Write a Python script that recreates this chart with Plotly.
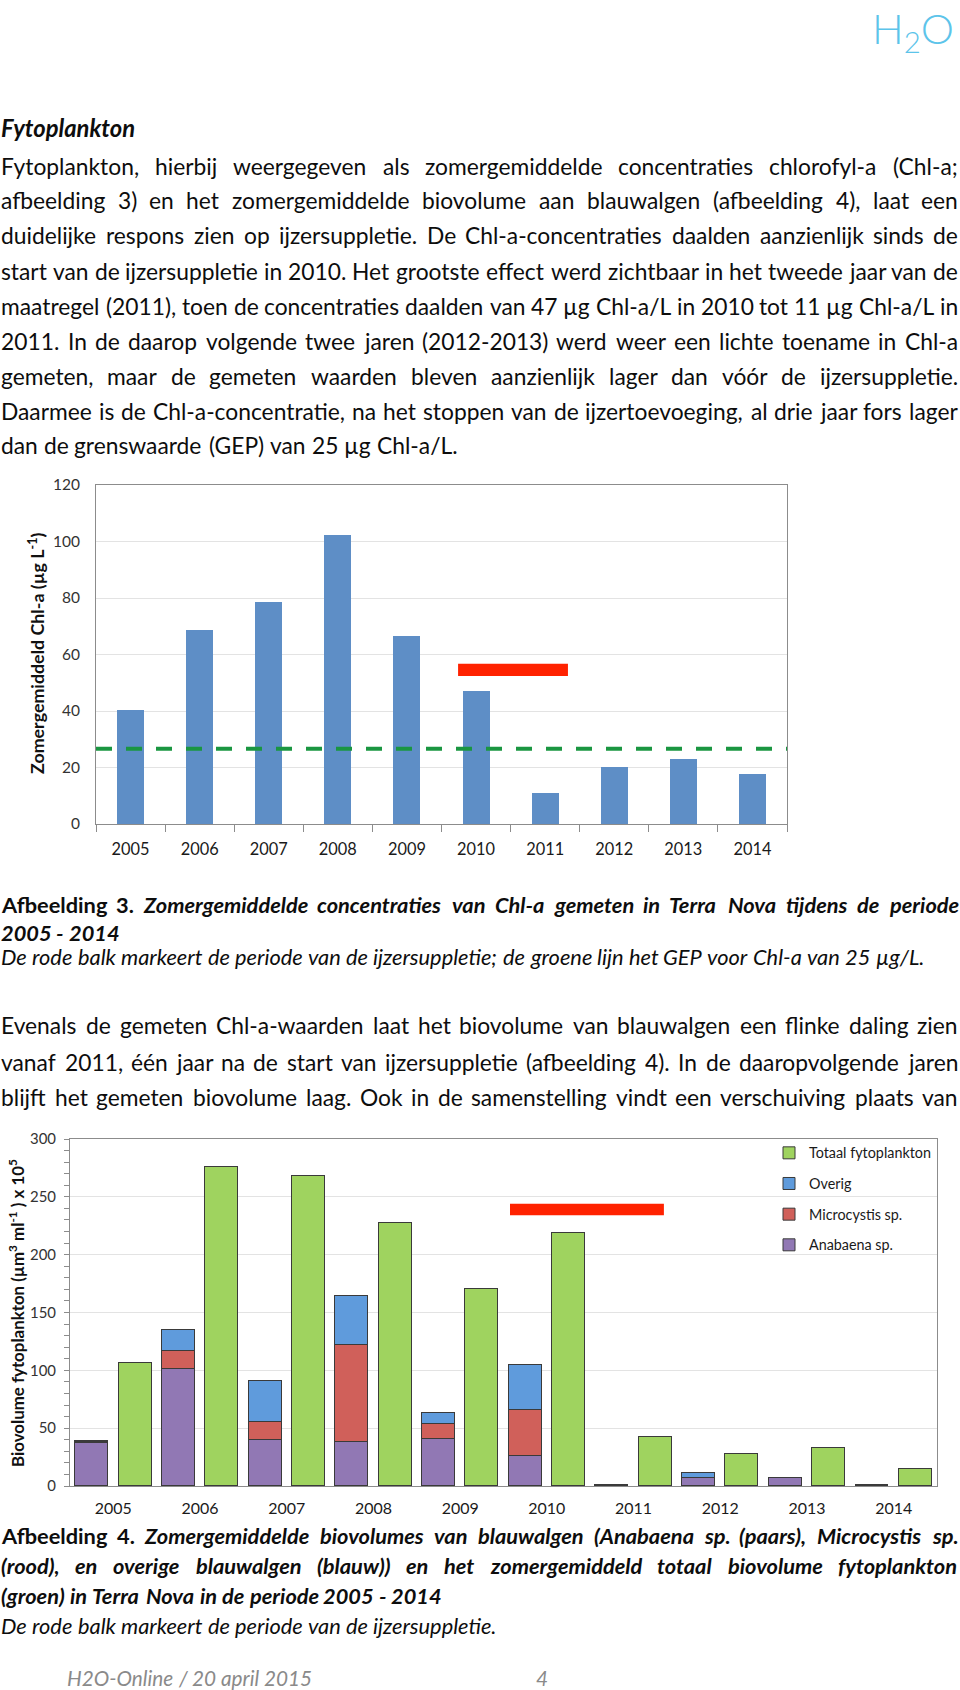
import os
import struct
import plotly.graph_objects as go

W, H = 960, 1690

# ---------------- data ----------------
YEARS = ['2005', '2006', '2007', '2008', '2009', '2010', '2011', '2012', '2013', '2014']
CHL_A = [40.5, 68.5, 78.7, 102.3, 66.4, 47.2, 10.8, 20.3, 23.0, 17.6]
GEP_LEVEL = 26.6
ANABAENA = [37.5, 101.0, 39.5, 38.0, 40.5, 26.0, 0.6, 6.5, 7.0, 0.5]
MICROCYSTIS = [0.3, 16.0, 15.5, 84.0, 13.0, 39.5, 0.0, 0.3, 0.0, 0.0]
OVERIG = [1.2, 18.0, 36.0, 42.0, 9.5, 39.0, 0.0, 4.5, 0.0, 0.0]
TOTAAL = [106.0, 276.0, 268.0, 227.0, 170.0, 219.0, 42.5, 28.0, 33.0, 14.5]
SERIES_NAMES = ['Anabaena sp.', 'Microcystis sp.', 'Overig', 'Totaal fytoplankton']
CHL_TICKS = [0, 20, 40, 60, 80, 100, 120]
BIO_TICKS = [0, 50, 100, 150, 200, 250, 300]

# ---------------- text ----------------
HEADER = 'Fytoplankton'
PARA1 = [
    'Fytoplankton, hierbij weergegeven als zomergemiddelde concentraties chlorofyl-a (Chl-a;',
    'afbeelding 3) en het zomergemiddelde biovolume aan blauwalgen (afbeelding 4), laat een',
    'duidelijke respons zien op ijzersuppletie. De Chl-a-concentraties daalden aanzienlijk sinds de',
    'start van de ijzersuppletie in 2010. Het grootste effect werd zichtbaar in het tweede jaar van de',
    'maatregel (2011), toen de concentraties daalden van 47 µg Chl-a/L in 2010 tot 11 µg Chl-a/L in',
    '2011. In de daarop volgende twee jaren (2012-2013) werd weer een lichte toename in Chl-a',
    'gemeten, maar de gemeten waarden bleven aanzienlijk lager dan vóór de ijzersuppletie.',
    'Daarmee is de Chl-a-concentratie, na het stoppen van de ijzertoevoeging, al drie jaar fors lager',
    'dan de grenswaarde (GEP) van 25 µg Chl-a/L.',
]
CAP3_LABEL = 'Afbeelding 3.'
CAP3_TITLE = 'Zomergemiddelde concentraties van Chl-a gemeten in Terra Nova tijdens de periode'
CAP3_TITLE2 = '2005 - 2014'
CAP3_NOTE = 'De rode balk markeert de periode van de ijzersuppletie; de groene lijn het GEP voor Chl-a van 25 µg/L.'
PARA2 = [
    'Evenals de gemeten Chl-a-waarden laat het biovolume van blauwalgen een flinke daling zien',
    'vanaf 2011, één jaar na de start van ijzersuppletie (afbeelding 4). In de daaropvolgende jaren',
    'blijft het gemeten biovolume laag. Ook in de samenstelling vindt een verschuiving plaats van',
]
CAP4_LABEL = 'Afbeelding 4.'
CAP4_LINES = [
    'Zomergemiddelde biovolumes van blauwalgen (Anabaena sp. (paars), Microcystis sp.',
    '(rood), en overige blauwalgen (blauw)) en het zomergemiddeld totaal biovolume fytoplankton',
    '(groen) in Terra Nova in de periode 2005 - 2014',
]
CAP4_NOTE = 'De rode balk markeert de periode van de ijzersuppletie.'
FOOTER = 'H2O-Online / 20 april 2015'
PAGE_NO = '4'

# ---------------- font metrics (for justified text) ----------------
FONT = 'Lato'
FONT_FILES = {'r': 'lato-regular', 'b': 'lato-bold', 'i': 'lato-italic', 'bi': 'lato-bolditalic'}


def find_fonts():
    found = {}
    roots = ['/usr/share/fonts', '/usr/local/share/fonts',
             os.path.expanduser('~/.fonts'), os.path.expanduser('~/.local/share/fonts')]
    for root in roots:
        if not os.path.isdir(root):
            continue
        for dp, dn, fn in os.walk(root):
            for f in fn:
                base, ext = os.path.splitext(f.lower())
                if ext in ('.ttf', '.otf'):
                    for k, v in FONT_FILES.items():
                        if base == v and k not in found:
                            found[k] = os.path.join(dp, f)
    return found


def load_metrics(path):
    data = open(path, 'rb').read()
    num = struct.unpack('>H', data[4:6])[0]
    tables = {}
    for i in range(num):
        tag, cs, off, ln = struct.unpack('>4sIII', data[12 + 16 * i:28 + 16 * i])
        tables[tag.decode('latin1')] = off
    upem = struct.unpack('>H', data[tables['head'] + 18:tables['head'] + 20])[0]
    nhm = struct.unpack('>H', data[tables['hhea'] + 34:tables['hhea'] + 36])[0]
    ho = tables['hmtx']
    advs = [struct.unpack('>H', data[ho + 4 * i:ho + 4 * i + 2])[0] for i in range(nhm)]
    co = tables['cmap']
    nsub = struct.unpack('>H', data[co + 2:co + 4])[0]
    best = None
    for i in range(nsub):
        pid, eid, so = struct.unpack('>HHI', data[co + 4 + 8 * i:co + 12 + 8 * i])
        fmt = struct.unpack('>H', data[co + so:co + so + 2])[0]
        if fmt == 4 and ((pid == 3 and eid == 1) or pid == 0):
            best = co + so
    p = best
    segx2 = struct.unpack('>H', data[p + 6:p + 8])[0]
    seg = segx2 // 2
    ends = struct.unpack('>%dH' % seg, data[p + 14:p + 14 + segx2])
    starts = struct.unpack('>%dH' % seg, data[p + 16 + segx2:p + 16 + 2 * segx2])
    deltas = struct.unpack('>%dh' % seg, data[p + 16 + 2 * segx2:p + 16 + 3 * segx2])
    rpos = p + 16 + 3 * segx2
    roffs = struct.unpack('>%dH' % seg, data[rpos:rpos + segx2])
    cache = {}

    def width(ch):
        if ch in cache:
            return cache[ch]
        c = ord(ch)
        g = 0
        for i in range(seg):
            if ends[i] >= c:
                if starts[i] <= c:
                    if roffs[i] == 0:
                        g = (c + deltas[i]) & 0xFFFF
                    else:
                        ga = rpos + 2 * i + roffs[i] + 2 * (c - starts[i])
                        gg = struct.unpack('>H', data[ga:ga + 2])[0]
                        g = (gg + deltas[i]) & 0xFFFF if gg else 0
                break
        a = advs[g] if g < nhm else advs[-1]
        cache[ch] = a / upem
        return cache[ch]
    return width


def fallback_width(ch):
    if ch == ' ':
        return 0.25
    if ch.isdigit():
        return 0.58
    if ch in 'il.,;:\'()!|/jft-':
        return 0.3
    if ch.isupper():
        return 0.65
    return 0.52


METRICS = {}
try:
    _files = find_fonts()
    for k, pth in _files.items():
        try:
            METRICS[k] = load_metrics(pth)
        except Exception:
            pass
except Exception:
    pass


def metric_for(style):
    for k in (style, 'b' if 'b' in style else 'r', 'i' if 'i' in style else 'r', 'r'):
        if k in METRICS:
            return METRICS[k]
    return fallback_width


def measure(text, style='r'):
    f = metric_for(style)
    return sum(f(ch) for ch in text)


def natural_em(words):
    return sum(measure(t, s) for t, s in words) + (len(words) - 1) * measure(' ', words[0][1])


def words_of(text, style):
    return [(w, style) for w in text.split(' ')]


annotations = []
TEXT_COLOR = '#0d0d0d'


def px(x):
    return x / W


def py(y):
    return 1 - y / H


def place(words, y, size, justify, x0=1.0, x1=958.0, color=TEXT_COLOR):
    widths = [measure(t, s) * size for t, s in words]
    if justify and len(words) > 1:
        gap = (x1 - x0 - sum(widths)) / (len(words) - 1)
    else:
        gap = measure(' ', words[0][1]) * size
    x = x0
    for (t, s), w in zip(words, widths):
        annotations.append(dict(
            text=t, x=px(x), y=py(y), xref='paper', yref='paper',
            xanchor='left', yanchor='middle', showarrow=False, borderpad=0, borderwidth=0,
            font=dict(family=FONT, size=size, color=color,
                      weight='bold' if 'b' in s else 'normal',
                      style='italic' if 'i' in s else 'normal')))
        x += w + gap


# font sizes fitted to the reference line widths
size_body = 956.0 / natural_em(words_of(PARA1[3], 'r'))
size_cap = 923.0 / natural_em(words_of(CAP3_NOTE, 'i'))
size_head = 135.0 / measure(HEADER, 'bi')
size_foot = 245.0 / measure(FOOTER, 'i')

# header + paragraph 1
place([(HEADER, 'bi')], 128, size_head, False)
para1_y = [166, 200, 235, 271, 306, 341, 376, 411, 445]
for i, (line, yy) in enumerate(zip(PARA1, para1_y)):
    place(words_of(line, 'r'), yy, size_body, i < len(PARA1) - 1)

# caption 3
place(words_of(CAP3_LABEL, 'b') + words_of(CAP3_TITLE, 'bi'), 904, size_cap, True)
place(words_of(CAP3_TITLE2, 'bi'), 932, size_cap, False)
place(words_of(CAP3_NOTE, 'i'), 956, size_cap, False)

# paragraph 2
for line, yy in zip(PARA2, [1025, 1062, 1097]):
    place(words_of(line, 'r'), yy, size_body, True)

# caption 4
place(words_of(CAP4_LABEL, 'b') + words_of(CAP4_LINES[0], 'bi'), 1535, size_cap, True)
place(words_of(CAP4_LINES[1], 'bi'), 1565, size_cap, True)
place(words_of(CAP4_LINES[2], 'bi'), 1595, size_cap, False)
place(words_of(CAP4_NOTE, 'i'), 1625, size_cap, False)

# footer
place(words_of(FOOTER, 'i'), 1678, size_foot, False, x0=67, color='#8a8a8a')
place([(PAGE_NO, 'i')], 1678, size_foot, False, x0=536, color='#8a8a8a')

# logo
annotations.append(dict(text='H<sub>2</sub>O', x=px(913), y=py(1), xref='paper', yref='paper',
                        xanchor='center', yanchor='top', showarrow=False,
                        font=dict(family=FONT, size=42, color='#5cc4ea', weight=300)))

# axis titles (rotated)
t1_em = measure('Zomergemiddeld Chl-a (µg L', 'b') + 0.7 * measure('-1', 'b') + measure(')', 'b')
size_t1 = 242.0 / t1_em
annotations.append(dict(text='Zomergemiddeld Chl-a (µg L<sup>-1</sup>)', x=px(36), y=py(654),
                        xref='paper', yref='paper', xanchor='center', yanchor='middle',
                        textangle=-90, showarrow=False,
                        font=dict(family=FONT, size=size_t1, color='#111', weight='bold')))
t2_em = (measure('Biovolume fytoplankton (µm', 'b') + 0.7 * measure('3', 'b') + measure(' ml', 'b')
         + 0.7 * measure('-1', 'b') + measure(' ) x 10', 'b') + 0.7 * measure('5', 'b'))
size_t2 = 309.0 / t2_em
annotations.append(dict(text='Biovolume fytoplankton (µm<sup>3</sup> ml<sup>-1</sup> ) x 10<sup>5</sup>',
                        x=px(16), y=py(1313), xref='paper', yref='paper', xanchor='center',
                        yanchor='middle', textangle=-90, showarrow=False,
                        font=dict(family=FONT, size=size_t2, color='#111', weight='bold')))

# tick label sizes fitted to reference widths
size_x1 = 38.0 / measure('2005')
size_y1 = 27.0 / measure('100')
size_x2 = 37.0 / measure('2005')
size_y2 = 26.0 / measure('300')
size_leg = 124.0 / measure('Totaal fytoplankton')

# ---------------- figure ----------------
fig = go.Figure()

# chart 1 (Chl-a)
fig.add_trace(go.Bar(x=YEARS, y=CHL_A, width=0.39, marker=dict(color='#5e8ec6', line=dict(width=0)),
                     xaxis='x', yaxis='y', showlegend=False, name='Chl-a'))

# chart 2 (biovolume)
idx = list(range(len(YEARS)))
x_stack = [i - 0.25 for i in idx]
x_total = [i + 0.25 for i in idx]
col2 = {'Anabaena sp.': '#9178b4', 'Microcystis sp.': '#d0605a', 'Overig': '#5f9bdc',
        'Totaal fytoplankton': '#9fd35f'}
rank = {'Totaal fytoplankton': 1, 'Overig': 2, 'Microcystis sp.': 3, 'Anabaena sp.': 4}
for name, vals, xs in [(SERIES_NAMES[0], ANABAENA, x_stack), (SERIES_NAMES[1], MICROCYSTIS, x_stack),
                       (SERIES_NAMES[2], OVERIG, x_stack), (SERIES_NAMES[3], TOTAAL, x_total)]:
    fig.add_trace(go.Bar(x=xs, y=vals, width=0.38, name=name, legendgroup=name,
                         legendrank=rank[name],
                         marker=dict(color=col2[name], line=dict(color='#3a3a3a', width=1)),
                         xaxis='x2', yaxis='y2'))

shapes = [
    dict(type='line', xref='x', yref='y', x0=-0.5, x1=9.5, y0=GEP_LEVEL, y1=GEP_LEVEL,
         line=dict(color='#1a9641', width=4, dash='16px,14px')),
    dict(type='rect', xref='x', yref='y', x0=4.74, x1=6.33, y0=52.4, y1=56.7,
         fillcolor='#ff2200', line=dict(width=0)),
    dict(type='rect', xref='x2', yref='y2', x0=4.575, x1=6.35, y0=234, y1=244,
         fillcolor='#ff2200', line=dict(width=0)),
]

AX = '#8c8c8c'
GRID = '#e3e3e3'
fig.update_layout(
    width=W, height=H, margin=dict(l=0, r=0, t=0, b=0), autosize=False,
    template='none', paper_bgcolor='white', plot_bgcolor='white',
    barmode='stack', bargap=0,
    annotations=annotations, shapes=shapes,
    xaxis=dict(domain=[px(96), px(787)], anchor='y', type='category', categoryarray=YEARS,
               range=[-0.5, 9.5], showline=True, linecolor=AX, linewidth=1, mirror=True,
               ticks='outside', tickson='boundaries', ticklen=7, tickcolor=AX, tickwidth=1,
               showgrid=False, zeroline=False, automargin=False, ticklabelstandoff=10,
               tickfont=dict(family=FONT, size=size_x1, color='#1a1a1a')),
    yaxis=dict(domain=[py(824), py(485)], anchor='x', range=[0, 120], tickvals=CHL_TICKS,
               showline=True, linecolor=AX, linewidth=1, mirror=True, ticks='',
               showgrid=True, gridcolor=GRID, gridwidth=1, zeroline=False, automargin=False,
               ticklabelstandoff=12, tickfont=dict(family=FONT, size=size_y1, color='#333')),
    xaxis2=dict(domain=[px(70), px(937)], anchor='y2', range=[-0.5, 9.5], tickvals=idx,
                ticktext=YEARS, showline=True, linecolor=AX, linewidth=1, mirror=True, ticks='',
                showgrid=False, zeroline=False, automargin=False, ticklabelstandoff=8,
                tickfont=dict(family=FONT, size=size_x2, color='#1a1a1a')),
    yaxis2=dict(domain=[py(1486), py(1139)], anchor='x2', range=[0, 300], tickvals=BIO_TICKS,
                showline=True, linecolor=AX, linewidth=1, mirror=True, ticks='outside', ticklen=5,
                tickcolor=AX, minor=dict(dtick=10, ticks='outside', ticklen=5, tickcolor=AX,
                                         showgrid=False),
                showgrid=True, gridcolor=GRID, gridwidth=1, zeroline=False, automargin=False,
                ticklabelstandoff=5, tickfont=dict(family=FONT, size=size_y2, color='#333')),
    legend=dict(x=px(769), xanchor='left', y=py(1137), yanchor='top', bgcolor='rgba(0,0,0,0)',
                borderwidth=0, traceorder='grouped', tracegroupgap=9,
                font=dict(family=FONT, size=size_leg, color='#1a1a1a')),
    showlegend=True,
)

fig.write_html('out.html')
